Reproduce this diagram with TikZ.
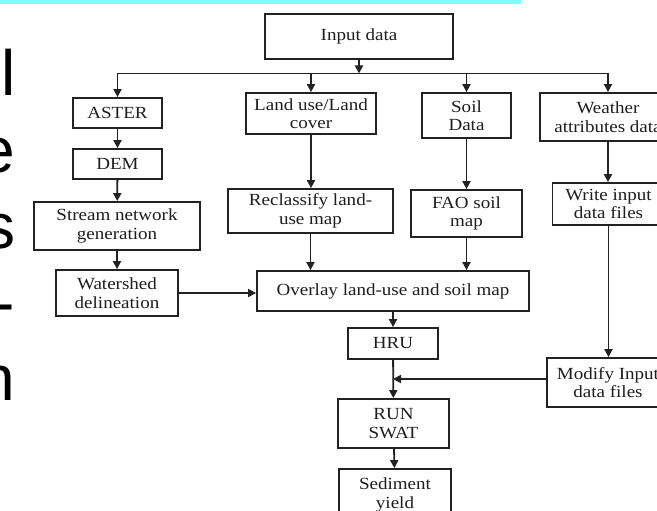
\documentclass[tikz,border=0pt]{standalone}
\usepackage{fontspec}
\setmainfont{Liberation Serif}[FakeStretch=1.12]
\newfontfamily\bigsans{Liberation Sans}
\usetikzlibrary{arrows.meta}
\definecolor{cyanbar}{RGB}{128,250,255}
\definecolor{ink}{RGB}{34,34,34}
\definecolor{txt}{RGB}{30,30,30}
\tikzset{
  box/.style={draw=ink, line width=1.8pt, inner sep=0pt, align=center, text=txt,
    font=\fontsize{17}{18.5}\selectfont},
  conn/.style={draw=ink, line width=1.8pt, -{Triangle[length=8pt,width=8pt]}},
  bigletter/.style={anchor=base east, inner sep=0pt, text=black,
    font=\bigsans\fontsize{64}{64}\selectfont}
}
\begin{document}
\begin{tikzpicture}[x=1pt,y=-1pt]
\useasboundingbox (0,0) rectangle (657,511);
\clip (0,0) rectangle (657,511);
\fill[white] (0,0) rectangle (657,511);
\fill[cyanbar] (0,0) rectangle (521,4);
% large cropped slide letters
\node[bigletter] (l1) at (15.5,96) {l};
\node[bigletter] (l2) at (15.5,172) {e};
\node[bigletter] (l3) at (15.5,248) {s};
\node[bigletter] (l4) at (15.5,324) {-};
\node[bigletter] (l5) at (15.5,400) {n};
% boxes
\node[box, minimum width=188pt, minimum height=45pt] (input) at (359,36.5) {Input data};
\node[box, minimum width=89pt, minimum height=30pt] (aster) at (117.5,113) {ASTER};
\node[box, minimum width=89pt, minimum height=30pt] (dem) at (117.5,164) {DEM};
\node[box, minimum width=166pt, minimum height=48pt] (stream) at (117,226) {Stream network\\generation};
\node[box, minimum width=122pt, minimum height=46pt] (water) at (117,293) {Watershed\\delineation};
\node[box, minimum width=130pt, minimum height=41pt] (landuse) at (311,113.5) {Land use/Land\\cover};
\node[box, minimum width=89pt, minimum height=45pt] (soil) at (466.5,115.5) {Soil\\Data};
\node[box, minimum width=136pt, minimum height=48pt] (weather) at (608,117) {Weather\\attributes data};
\node[box, minimum width=165pt, minimum height=44pt] (reclass) at (310.5,211) {Reclassify land-\\use map};
\node[box, minimum width=111pt, minimum height=47pt] (fao) at (466.5,213.5) {FAO soil\\map};
\node[box, minimum width=112pt, minimum height=42pt] (write) at (608.5,204) {Write input\\data files};
\node[box, minimum width=272pt, minimum height=40pt] (overlay) at (393,291) {Overlay land-use and soil map};
\node[box, minimum width=90pt, minimum height=31pt] (hru) at (393,343.5) {HRU};
\node[box, minimum width=122pt, minimum height=49pt] (modify) at (608,382.5) {Modify Input\\data files};
\node[box, minimum width=111pt, minimum height=49pt] (run) at (393.5,423.5) {RUN\\SWAT};
\node[box, minimum width=112pt, minimum height=52pt] (sed) at (395,495) {Sediment\\yield};
% connectors
\coordinate (bus) at (359,73.5);
\draw[conn] (input.south) -- (input.south|-bus);
\draw[conn] (input.south|-bus) -- (aster.north|-bus) -- (aster.north);
\draw[conn] (input.south|-bus) -- (weather.north|-bus) -- (weather.north);
\draw[conn] (landuse.north|-bus) -- (landuse.north);
\draw[conn] (soil.north|-bus) -- (soil.north);
\draw[conn] (aster) -- (dem);
\draw[conn] (dem) -- (stream);
\draw[conn] (stream) -- (water);
\draw[conn] (water.east) -- (water.east-|overlay.west);
\draw[conn] (landuse.south) -- (landuse.south|-reclass.north);
\draw[conn] (reclass.south) -- (reclass.south|-overlay.north);
\draw[conn] (soil) -- (fao);
\draw[conn] (fao.south) -- (fao.south|-overlay.north);
\draw[conn] (weather.south) -- (weather.south|-write.north);
\draw[conn] (write.south) -- (write.south|-modify.north);
\draw[conn] (overlay.south-|hru.south) -- (hru.north);
\draw[conn] (hru) -- (run);
\coordinate (join) at (393,379);
\draw[conn] (modify.west|-join) -- (join);
\draw[conn] (run) -- (sed);
\end{tikzpicture}
\end{document}
